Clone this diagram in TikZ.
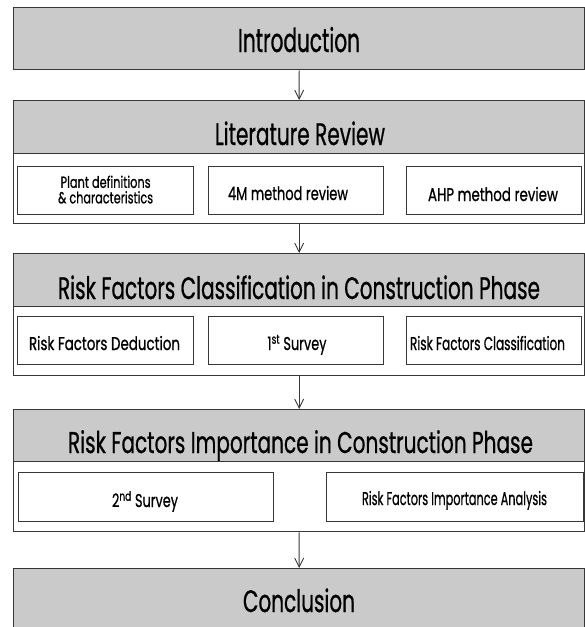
\documentclass[tikz,border=0pt]{standalone}
\usepackage{fontspec}
\setmainfont{Poppins}[FakeBold=0.9]
\usetikzlibrary{arrows.meta}
\definecolor{hdr}{RGB}{202,202,202}
\definecolor{edge}{RGB}{55,55,55}
\newcommand\fitw[2]{\resizebox{#1pt}{\height}{#2}}
\begin{document}
\begin{tikzpicture}[x=1pt,y=-1pt,
  outerbox/.style={draw=edge, line width=1.3pt, fill=white, minimum width=571pt, inner sep=0pt, anchor=north west},
  hdrbox/.style={draw=edge, line width=1.4pt, fill=hdr, minimum width=571pt, inner sep=0pt, anchor=north west},
  subbox/.style={draw=edge, line width=1.2pt, fill=white, inner sep=0pt, anchor=north west},
  bigtext/.style={anchor=base, inner sep=0pt, font=\fontsize{31}{31}\selectfont},
  smalltext/.style={anchor=base, inner sep=0pt, font=\fontsize{18.5}{18.5}\selectfont},
  arr/.style={draw=edge, line width=0.9pt, -{Straight Barb[length=9pt,width=9pt]}}]
\useasboundingbox (0,0) rectangle (585,627);
\clip (0,0) rectangle (585,627);
\fill[white] (0,0) rectangle (585,627);

% Introduction
\node[hdrbox, minimum height=62pt] (intro) at (13,7) {};
\node[bigtext, font=\fontsize{33}{33}\selectfont] (introT) at (299,52) {\fitw{122}{Introduction}};

% Literature review
\node[outerbox, minimum height=123pt] (lit) at (13,100) {};
\node[hdrbox, minimum height=53pt] (litH) at (13,100) {};
\node[bigtext] (litT) at (300,145) {\fitw{170}{Literature Review}};
\node[subbox, minimum width=176pt, minimum height=48pt] (lit1) at (17,166) {};
\node[subbox, minimum width=175pt, minimum height=48pt] (lit2) at (208,166) {};
\node[subbox, minimum width=175pt, minimum height=48pt] (lit3) at (406,166) {};
\node[inner sep=0pt, align=center, font=\fontsize{16}{15.5}\selectfont] (lit1T) at ([yshift=1pt]lit1.center) {\fitw{90}{Plant definitions}\\\fitw{95}{\& characteristics}};
\node[smalltext] (lit2T) at (288,200) {\fitw{120}{4M method review}};
\node[smalltext] (lit3T) at (493,201) {\fitw{130}{AHP method review}};

% Classification
\node[outerbox, minimum height=122pt] (cls) at (13,253) {};
\node[hdrbox, minimum height=53pt] (clsH) at (13,253) {};
\node[bigtext] (clsT) at (299,299) {\fitw{482}{Risk Factors Classification in Construction Phase}};
\node[subbox, minimum width=176pt, minimum height=48pt] (cls1) at (17,316) {};
\node[subbox, minimum width=175pt, minimum height=48pt] (cls2) at (208,316) {};
\node[subbox, minimum width=175pt, minimum height=48pt] (cls3) at (406,316) {};
\node[smalltext] (cls1T) at (104.5,350) {\fitw{151}{Risk Factors Deduction}};
\node[smalltext] (cls2T) at (297,350) {\fitw{59}{1\textsuperscript{st} Survey}};
\node[smalltext] (cls3T) at (487.5,350) {\fitw{155}{Risk Factors Classification}};

% Importance
\node[outerbox, minimum height=122pt] (imp) at (13,409) {};
\node[hdrbox, minimum height=52pt] (impH) at (13,409) {};
\node[bigtext, font=\fontsize{30}{30}\selectfont] (impT) at (300.5,453) {\fitw{465}{Risk Factors Importance in Construction Phase}};
\node[subbox, minimum width=255pt, minimum height=49pt] (imp1) at (18,472) {};
\node[subbox, minimum width=257pt, minimum height=49pt] (imp2) at (326,472) {};
\node[smalltext] (imp1T) at (145,507) {\fitw{66}{2\textsuperscript{nd} Survey}};
\node[smalltext] (imp2T) at (454.5,505) {\fitw{185}{Risk Factors Importance Analysis}};

% Conclusion
\node[hdrbox, minimum height=80pt] (conc) at (13,568) {};
\node[bigtext] (concT) at (299,612) {\fitw{112}{Conclusion}};

% Arrows
\draw[arr] (intro.south) -- (lit.north);
\draw[arr] (lit.south) -- (cls.north);
\draw[arr] (cls.south) -- (imp.north);
\draw[arr] (imp.south) -- (conc.north);
\end{tikzpicture}
\end{document}
